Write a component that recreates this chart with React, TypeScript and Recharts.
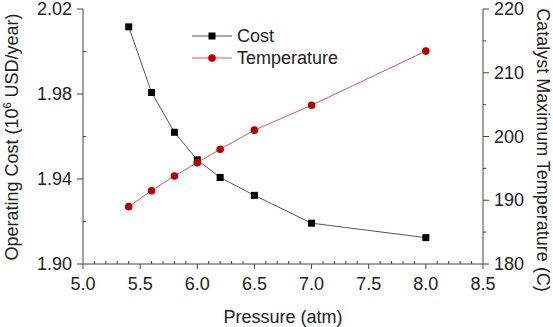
import React from 'react';
import { LineChart, Line, XAxis, YAxis, Legend } from 'recharts';

const pressure = [5.4, 5.6, 5.8, 6.0, 6.2, 6.5, 7.0, 8.0];
const cost = [2.0116, 1.9807, 1.962, 1.949, 1.9407, 1.9323, 1.9192, 1.9124];
const temperature = [189.0, 191.5, 193.8, 195.9, 198.0, 201.0, 204.9, 213.4];

const xMajor = [5.0, 5.5, 6.0, 6.5, 7.0, 7.5, 8.0, 8.5];
const xTicks = [
  5.0, 5.1, 5.2, 5.3, 5.4, 5.5, 5.6, 5.7, 5.8, 5.9, 6.0, 6.1, 6.2, 6.3, 6.4, 6.5, 6.6, 6.7, 6.8,
  6.9, 7.0, 7.1, 7.2, 7.3, 7.4, 7.5, 7.6, 7.7, 7.8, 7.9, 8.0, 8.1, 8.2, 8.3, 8.4, 8.5,
];
const costMajor = [1.9, 1.94, 1.98, 2.02];
const costTicks = [1.9, 1.92, 1.94, 1.96, 1.98, 2.0, 2.02];
const tempMajor = [180, 190, 200, 210, 220];
const tempTicks = [180, 185, 190, 195, 200, 205, 210, 215, 220];

const data = pressure.map((p, i) => ({ p, cost: cost[i], temp: temperature[i] }));

const FONT = '"Liberation Sans", Arial, sans-serif';
const AXIS = '#444';
const TEXT = '#222';
const RED_LINE = '#e05555';
const RED_DOT = '#b40000';

const XTick = (props: any) => {
  const { x, y, payload } = props;
  const major = xMajor.includes(payload.value);
  return (
    <g>
      <line x1={x} x2={x} y1={y} y2={major ? y + 5 : y - 3} stroke={AXIS} strokeWidth={1} />
      {major && (
        <text x={x} y={y + 26} textAnchor="middle" fontFamily={FONT} fontSize={18} fill={TEXT}>
          {payload.value.toFixed(1)}
        </text>
      )}
    </g>
  );
};

const LeftTick = (props: any) => {
  const { x, y, payload } = props;
  const major = costMajor.includes(payload.value);
  return (
    <g>
      <line x1={x} x2={major ? x - 6 : x + 3} y1={y} y2={y} stroke={AXIS} strokeWidth={1} />
      {major && (
        <text x={x - 11} y={y + 6} textAnchor="end" fontFamily={FONT} fontSize={18} fill={TEXT}>
          {payload.value.toFixed(2)}
        </text>
      )}
    </g>
  );
};

const RightTick = (props: any) => {
  const { x, y, payload } = props;
  const major = tempMajor.includes(payload.value);
  return (
    <g>
      <line x1={x} x2={major ? x + 6 : x + 3} y1={y} y2={y} stroke={AXIS} strokeWidth={1} />
      {major && (
        <text x={x + 11} y={y + 6} textAnchor="start" fontFamily={FONT} fontSize={18} fill={TEXT}>
          {payload.value}
        </text>
      )}
    </g>
  );
};

const SquareDot = (props: any) => {
  const { cx, cy } = props;
  return <rect x={cx - 3.5} y={cy - 3.5} width={7} height={7} fill="#000" />;
};

const legendItems = [
  { name: 'Cost', line: '#555', kind: 'square' },
  { name: 'Temperature', line: RED_LINE, kind: 'circle' },
];

const LegendContent = () => (
  <div style={{ fontFamily: FONT, fontSize: 18, color: TEXT }}>
    {legendItems.map((it) => (
      <div key={it.name} style={{ display: 'flex', alignItems: 'center', height: 22 }}>
        <svg width={46} height={22}>
          <line x1={2} x2={42} y1={11} y2={11} stroke={it.line} strokeWidth={1} />
          {it.kind === 'square' ? (
            <rect x={18.5} y={7.5} width={7} height={7} fill="#000" />
          ) : (
            <circle cx={22} cy={11} r={3.8} fill={RED_DOT} />
          )}
        </svg>
        <span style={{ marginLeft: 1 }}>{it.name}</span>
      </div>
    ))}
  </div>
);

export default function App() {
  return (
    <div style={{ position: 'absolute', left: 0, top: 0, background: '#fff' }}>
      <LineChart width={553} height={327} data={data} margin={{ top: 9, right: 0, bottom: 0, left: 0 }}>
        <XAxis
          dataKey="p"
          type="number"
          domain={[5, 8.5]}
          ticks={xTicks}
          interval={0}
          tick={<XTick />}
          tickLine={false}
          tickSize={0}
          tickMargin={0}
          axisLine={{ stroke: AXIS }}
          height={63}
          label={{
            content: () => (
              <text x={283} y={323} textAnchor="middle" fontFamily={FONT} fontSize={18} fill={TEXT}>
                Pressure (atm)
              </text>
            ),
          }}
        />
        <XAxis
          xAxisId="top"
          orientation="top"
          dataKey="p"
          type="number"
          domain={[5, 8.5]}
          height={0}
          tick={false}
          tickLine={false}
          axisLine={{ stroke: AXIS }}
        />
        <YAxis
          yAxisId="cost"
          domain={[1.9, 2.02]}
          ticks={costTicks}
          interval={0}
          tick={<LeftTick />}
          tickLine={false}
          tickSize={0}
          tickMargin={0}
          axisLine={{ stroke: AXIS }}
          width={83}
          label={{
            content: () => (
              <text
                x={18}
                y={137}
                textAnchor="middle"
                fontFamily={FONT}
                fontSize={18}
                fill={TEXT}
                transform="rotate(-90, 18, 137)"
              >
                Operating Cost (10
                <tspan dy={-7} fontSize={11}>6</tspan>
                <tspan dy={7}> USD/year)</tspan>
              </text>
            ),
          }}
        />
        <YAxis
          yAxisId="temp"
          orientation="right"
          domain={[180, 220]}
          ticks={tempTicks}
          interval={0}
          tick={<RightTick />}
          tickLine={false}
          tickSize={0}
          tickMargin={0}
          axisLine={{ stroke: AXIS }}
          width={70}
          label={{
            content: () => (
              <text
                x={537}
                y={150}
                textAnchor="middle"
                fontFamily={FONT}
                fontSize={18}
                fill={TEXT}
                transform="rotate(90, 537, 150)"
              >
                Catalyst Maximum Temperature (C)
              </text>
            ),
          }}
        />
        <Legend
          layout="horizontal"
          verticalAlign="middle"
          align="center"
          content={<LegendContent />}
          wrapperStyle={{ position: 'absolute', left: 190, top: 25, width: 'auto' }}
        />
        <Line
          yAxisId="cost"
          dataKey="cost"
          stroke="#555"
          strokeWidth={1}
          dot={<SquareDot />}
          activeDot={false}
          isAnimationActive={false}
        />
        <Line
          yAxisId="temp"
          dataKey="temp"
          stroke={RED_LINE}
          strokeWidth={1}
          dot={{ r: 3.8, fill: RED_DOT, stroke: RED_DOT, strokeWidth: 0 }}
          activeDot={false}
          isAnimationActive={false}
        />
      </LineChart>
    </div>
  );
}
